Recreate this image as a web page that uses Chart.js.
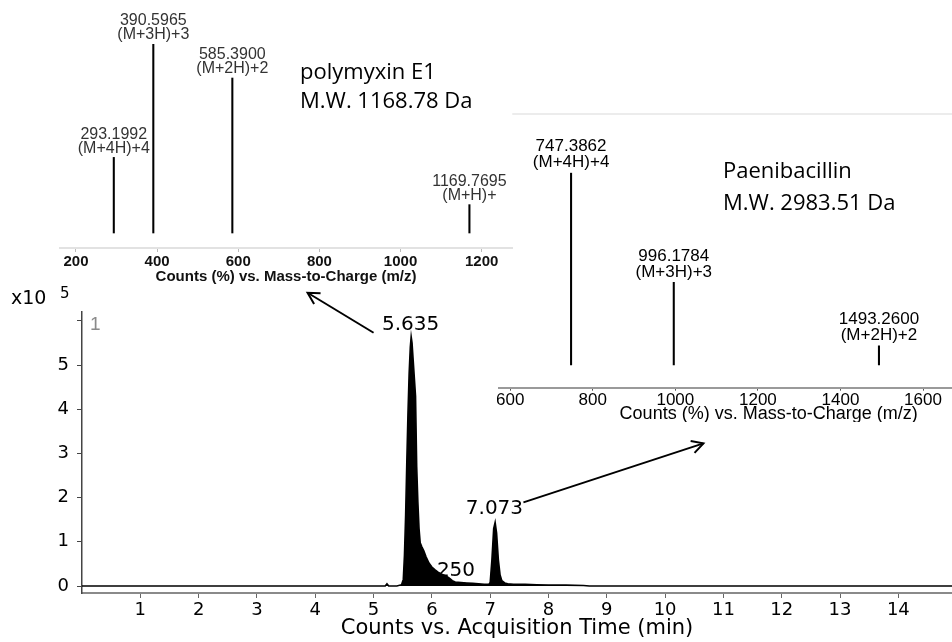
<!DOCTYPE html>
<html><head><meta charset="utf-8">
<script src="https://cdn.jsdelivr.net/npm/chart.js@4.4.1/dist/chart.umd.min.js"></script>
<style>
html,body{margin:0;padding:0;background:#fff;}
#wrap{position:relative;width:952px;height:642px;overflow:hidden;background:#fff;}
canvas{position:absolute;}
</style></head><body>
<div id="wrap">
<canvas id="main" width="952" height="642" style="left:0;top:0"></canvas>
<canvas id="pae" width="455" height="310" style="left:497px;top:112px"></canvas>
<canvas id="poly" width="520" height="290" style="left:0;top:0"></canvas>
</div>
<script>
// ---- Main chromatogram (TIC), counts in units of 1e5 ----
const timeMin = [0,1,2,3,4,5,5.2,5.23,5.26,5.3,5.40,5.48,5.51,5.53,5.55,5.57,5.59,5.61,5.63,5.645,5.66,5.68,5.70,5.72,5.74,5.76,5.78,5.80,5.83,5.86,5.90,5.95,6.00,6.05,6.10,6.15,6.20,6.25,6.30,6.35,6.40,6.50,6.60,6.70,6.80,6.90,6.98,7.00,7.03,7.06,7.085,7.11,7.14,7.17,7.20,7.25,7.30,7.40,7.60,7.80,8.00,8.30,8.60,8.70,10,12,14.92];
const countsE5 = [0,0,0,0,0,0,0,0.05,0,0,0,0.03,0.15,0.7,1.6,2.8,3.9,4.8,5.4,5.64,5.5,5.1,4.7,4.3,2.7,1.9,1.3,0.98,0.88,0.8,0.66,0.52,0.43,0.37,0.32,0.28,0.25,0.22,0.18,0.12,0.09,0.08,0.07,0.06,0.05,0.04,0.04,0.08,0.6,1.3,1.44,1.2,0.6,0.25,0.12,0.07,0.05,0.04,0.04,0.03,0.02,0.02,0.01,0,0,0,0];
const timeTicks = [1,2,3,4,5,6,7,8,9,10,11,12,13,14];
const countTicks = [0,1,2,3,4,5,6];
const peakTimeLabels = ['5.635','6.250','7.073'];

// ---- Inset 1: polymyxin E1 spectrum ----
const polyMz = [293.1992, 390.5965, 585.3900, 1169.7695];
const polyInt = [40, 100, 82, 15];
const polyIon = ['(M+4H)+4','(M+3H)+3','(M+2H)+2','(M+H)+'];
const polyTicks = [200,400,600,800,1000,1200];

// ---- Inset 2: Paenibacillin spectrum ----
const paeMz = [747.3862, 996.1784, 1493.2600];
const paeInt = [100, 43, 10];
const paeIon = ['(M+4H)+4','(M+3H)+3','(M+2H)+2'];
const paeTicks = [600,800,1000,1200,1400,1600];

const FONT_MAIN = 'DejaVu Sans';
const FONT_SPEC = 'Liberation Sans';
const FONT_NAME = 'Open Sans';

function arrow(ctx, x1, y1, x2, y2) {
  ctx.beginPath(); ctx.moveTo(x1, y1); ctx.lineTo(x2, y2); ctx.stroke();
  const a = Math.atan2(y2 - y1, x2 - x1), L = 13, w = 0.5;
  ctx.beginPath();
  ctx.moveTo(x2 - L * Math.cos(a - w), y2 - L * Math.sin(a - w));
  ctx.lineTo(x2, y2);
  ctx.lineTo(x2 - L * Math.cos(a + w), y2 - L * Math.sin(a + w));
  ctx.stroke();
}

function peakApex(t) {
  let best = 0;
  timeMin.forEach((x, i) => { if (Math.abs(x - t) <= 0.065 && countsE5[i] > best) best = countsE5[i]; });
  return best;
}

const labelDy = {'5.635': -7, '6.250': 1, '7.073': -8};

const mainDecor = {
  id: 'mainDecor',
  beforeDatasetsDraw(chart) {
    const {ctx, scales: {x, y}} = chart;
    ctx.save();
    ctx.font = '20px "' + FONT_MAIN + '"';
    ctx.fillStyle = '#000'; ctx.textAlign = 'center'; ctx.textBaseline = 'alphabetic';
    const t = peakTimeLabels[1];
    ctx.fillText(t, x.getPixelForValue(+t), y.getPixelForValue(peakApex(+t)) + labelDy[t]);
    ctx.restore();
  },
  afterDraw(chart) {
    const {ctx, chartArea, scales: {x, y}} = chart;
    ctx.save();
    ctx.fillStyle = '#000'; ctx.strokeStyle = '#000'; ctx.lineWidth = 2;
    ctx.font = '20px "' + FONT_MAIN + '"';
    ctx.textAlign = 'center'; ctx.textBaseline = 'alphabetic';
    const pos = {};
    [peakTimeLabels[0], peakTimeLabels[2]].forEach(t => {
      const px = x.getPixelForValue(+t), py = y.getPixelForValue(peakApex(+t)) + labelDy[t];
      ctx.fillText(t, px, py);
      pos[t] = [px, py - 7];
    });
    // arrows from the peak labels to the spectra
    arrow(ctx, pos['5.635'][0] - 37, pos['5.635'][1] + 10, pos['5.635'][0] - 103, pos['5.635'][1] - 30);
    arrow(ctx, pos['7.073'][0] + 29, pos['7.073'][1] - 5, pos['7.073'][0] + 209, pos['7.073'][1] - 64);
    // y multiplier
    ctx.textAlign = 'left';
    ctx.font = '19px "' + FONT_MAIN + '"';
    ctx.fillText('x10', 11, chartArea.top - 8);
    ctx.font = '15px "' + FONT_MAIN + '"';
    ctx.fillText('5', 60, chartArea.top - 14);
    // chart number
    ctx.fillStyle = '#8a8a8a';
    ctx.font = '19px "' + FONT_SPEC + '"';
    ctx.fillText('1', chartArea.left + 8, chartArea.top + 18);
    ctx.restore();
  }
};

new Chart(document.getElementById('main'), {
  type: 'line',
  data: { datasets: [{
    data: timeMin.map((t, i) => ({x: t, y: countsE5[i]})),
    borderColor: '#000', borderWidth: 1.6, backgroundColor: '#000',
    fill: 'origin', pointRadius: 0, tension: 0
  }]},
  options: {
    responsive: false, animation: false, devicePixelRatio: 1,
    layout: {padding: {top: 312, left: 0, right: 0, bottom: 0}},
    plugins: {legend: {display: false}, tooltip: {enabled: false}},
    scales: {
      x: {
        type: 'linear', min: 0, max: 14.92,
        afterBuildTicks: s => { s.ticks = timeTicks.map(v => ({value: v})); },
        afterFit: s => { s.height = 49; },
        grid: {drawOnChartArea: false, drawTicks: true, tickLength: 5, color: '#666'},
        border: {display: true, color: '#8a8a8a', width: 2},
        ticks: {font: {family: FONT_MAIN, size: 18}, color: '#000', padding: 2, maxRotation: 0, autoSkip: false,
          callback: v => String(v)},
        title: {display: true, text: 'Counts vs. Acquisition Time (min)', font: {family: FONT_MAIN, size: 21}, color: '#000', padding: {top: 0, bottom: 1}}
      },
      y: {
        min: -0.158, max: 6.2,
        afterBuildTicks: s => { s.ticks = countTicks.map(v => ({value: v})); },
        afterFit: s => { s.width = 82; },
        grid: {drawOnChartArea: false, drawTicks: true, tickLength: 5, color: '#444'},
        border: {display: true, color: '#444', width: 1.5},
        ticks: {font: {family: FONT_MAIN, size: 18}, color: '#000', padding: 8,
          callback: v => (v === 6 ? '' : String(v))}
      }
    }
  },
  plugins: [mainDecor]
});

function specLabels(id, mz, ion, font, color, dy1, dy2, name, nameX, nameY1, nameY2, extra) {
  return {
    id,
    beforeDraw(chart) { if (extra) extra(chart); },
    afterDatasetsDraw(chart) {
      const ctx = chart.ctx, meta = chart.getDatasetMeta(0);
      ctx.save();
      ctx.font = font; ctx.fillStyle = color; ctx.textAlign = 'center'; ctx.textBaseline = 'middle';
      meta.data.forEach((el, i) => {
        ctx.fillText(mz[i].toFixed(4), el.x, el.y + dy1);
        ctx.fillText(ion[i], el.x, el.y + dy2);
      });
      ctx.fillStyle = '#000'; ctx.textAlign = 'left'; ctx.textBaseline = 'alphabetic';
      ctx.font = '22px "' + FONT_NAME + '"';
      ctx.fillText(name[0], nameX, nameY1);
      ctx.fillText(name[1], nameX, nameY2);
      ctx.restore();
    }
  };
}

new Chart(document.getElementById('poly'), {
  type: 'bar',
  data: {datasets: [{data: polyMz.map((m, i) => ({x: m, y: polyInt[i]})), backgroundColor: '#000', barThickness: 1.4, borderWidth: 0}]},
  options: {
    responsive: false, animation: false, devicePixelRatio: 1,
    layout: {padding: {top: 44, left: 60, right: 8, bottom: 0}},
    plugins: {legend: {display: false}, tooltip: {enabled: false}},
    scales: {
      x: {
        type: 'linear', min: 160.6, max: 1274.7, offset: false,
        afterBuildTicks: s => { s.ticks = polyTicks.map(v => ({value: v})); },
        afterFit: s => { s.height = 42; },
        grid: {offset: false, drawOnChartArea: false, drawTicks: true, tickLength: 4, color: '#bbb'},
        border: {display: true, color: '#e2e2e2', width: 2},
        ticks: {font: {family: FONT_SPEC, size: 15, weight: 'bold'}, color: '#111', padding: 1, maxRotation: 0, autoSkip: false,
          callback: v => String(v)},
        title: {display: true, text: 'Counts (%) vs. Mass-to-Charge (m/z)', font: {family: FONT_SPEC, size: 15, weight: 'bold'}, color: '#111', padding: {top: 0, bottom: 4}}
      },
      y: {display: false, min: -7.94, max: 100}
    }
  },
  plugins: [specLabels('polyLabels', polyMz, polyIon, '16px "' + FONT_SPEC + '"', '#333', -23, -9,
    ['polymyxin E1', 'M.W. 1168.78 Da'], 300, 79, 108)]
});

new Chart(document.getElementById('pae'), {
  type: 'bar',
  data: {datasets: [{data: paeMz.map((m, i) => ({x: m, y: paeInt[i]})), backgroundColor: '#000', barThickness: 1.4, borderWidth: 0}]},
  options: {
    responsive: false, animation: false, devicePixelRatio: 1,
    layout: {padding: {top: 60.7, left: 2, right: 0, bottom: 0}},
    plugins: {legend: {display: false}, tooltip: {enabled: false}},
    scales: {
      x: {
        type: 'linear', min: 573.4, max: 1670.2, offset: false,
        afterBuildTicks: s => { s.ticks = paeTicks.map(v => ({value: v})); },
        afterFit: s => { s.height = 34.3; },
        grid: {offset: false, drawOnChartArea: false, drawTicks: true, tickLength: 3, color: '#555'},
        border: {display: true, color: '#9a9a9a', width: 2},
        ticks: {font: {family: FONT_SPEC, size: 17}, color: '#000', padding: -1, maxRotation: 0, autoSkip: false,
          callback: v => String(v)},
        title: {display: false}
      },
      y: {display: false, min: -11.8, max: 100}
    }
  },
  plugins: [specLabels('paeLabels', paeMz, paeIon, '17px "' + FONT_SPEC + '"', '#000', -26, -10,
    ['Paenibacillin', 'M.W. 2983.51 Da'], 226, 66, 98,
    chart => {
      const ctx = chart.ctx, a = chart.chartArea;
      ctx.save();
      ctx.strokeStyle = '#ececec'; ctx.lineWidth = 2;
      ctx.beginPath(); ctx.moveTo(a.left + 13, 2); ctx.lineTo(a.right, 2); ctx.stroke();
      ctx.restore();
    }),
    {id: 'paeTitle', afterDraw(chart) {
      const ctx = chart.ctx, a = chart.chartArea;
      ctx.save();
      ctx.font = '18px "' + FONT_SPEC + '"'; ctx.fillStyle = '#000';
      ctx.textAlign = 'center'; ctx.textBaseline = 'middle';
      ctx.fillText('Counts (%) vs. Mass-to-Charge (m/z)', a.left + a.width * 0.595, a.bottom + 26);
      ctx.restore();
    }}]
});
</script>
</body></html>
